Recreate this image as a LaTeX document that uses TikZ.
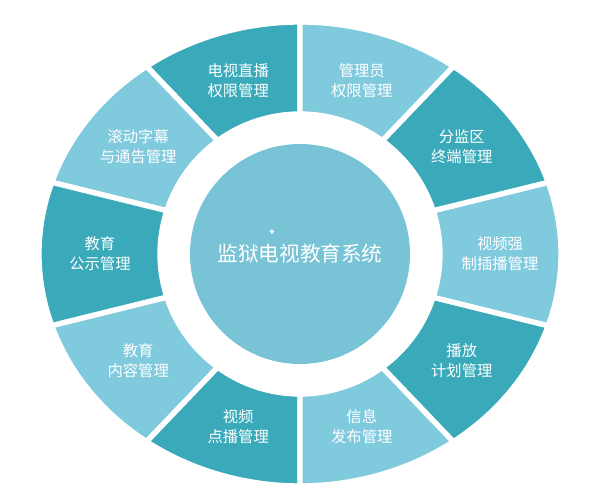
\documentclass[tikz,border=0pt]{standalone}
\usepackage{fontspec}
\setmainfont{Noto Sans CJK SC}
\newfontfamily\symfont{DejaVu Sans}
\usetikzlibrary{calc}
\definecolor{darkteal}{RGB}{58, 170, 186}
\definecolor{lightteal}{RGB}{128, 202, 222}
\definecolor{hubteal}{RGB}{120, 196, 214}

\begin{document}
\begin{tikzpicture}[x=0.75pt, y=0.75pt,
    seglabel/.style={text=white, align=center, font=\fontsize{11.5}{15}\selectfont}]

  \useasboundingbox (0, 0) rectangle (601, 498);
  \coordinate (hub) at (300, 244);

  % ring of ten segments
  \foreach \k/\col/\txt in {0/darkteal/{电视直播\\权限管理}, 1/lightteal/{滚动字幕\\与通告管理},
      2/darkteal/{教育\\公示管理}, 3/lightteal/{教育\\内容管理}, 4/darkteal/{视频\\点播管理},
      5/lightteal/{信息\\发布管理}, 6/darkteal/{播放\\计划管理}, 7/lightteal/{视频强\\制插播管理},
      8/darkteal/{分监区\\终端管理}, 9/lightteal/{管理员\\权限管理}} {
    \pgfmathsetmacro{\a}{90 + 36 * \k}
    \pgfmathsetmacro{\b}{126 + 36 * \k}
    \pgfmathsetmacro{\m}{108 + 36 * \k}
    \fill[\col, draw=white, line width=4pt, line join=miter]
      ($(hub) + (\a:261 and 232)$) arc[start angle=\a, end angle=\b, x radius=261, y radius=232]
      -- ($(hub) + (\b:140)$) arc[start angle=\b, end angle=\a, radius=140] -- cycle;
    \node[seglabel] (seg\k) at ($(hub) + (\m:200 and 182)$) {\txt};
  }

  \fill[hubteal] (hub) circle (110);
  \node[text=white, font=\fontsize{15.5}{18}\selectfont] (title) at (hub) {监狱电视教育系统};
  \node[text=white, font=\symfont\fontsize{7}{8}\selectfont] (spark) at ($(hub) + (-28, 22)$) {✦};

\end{tikzpicture}
\end{document}
